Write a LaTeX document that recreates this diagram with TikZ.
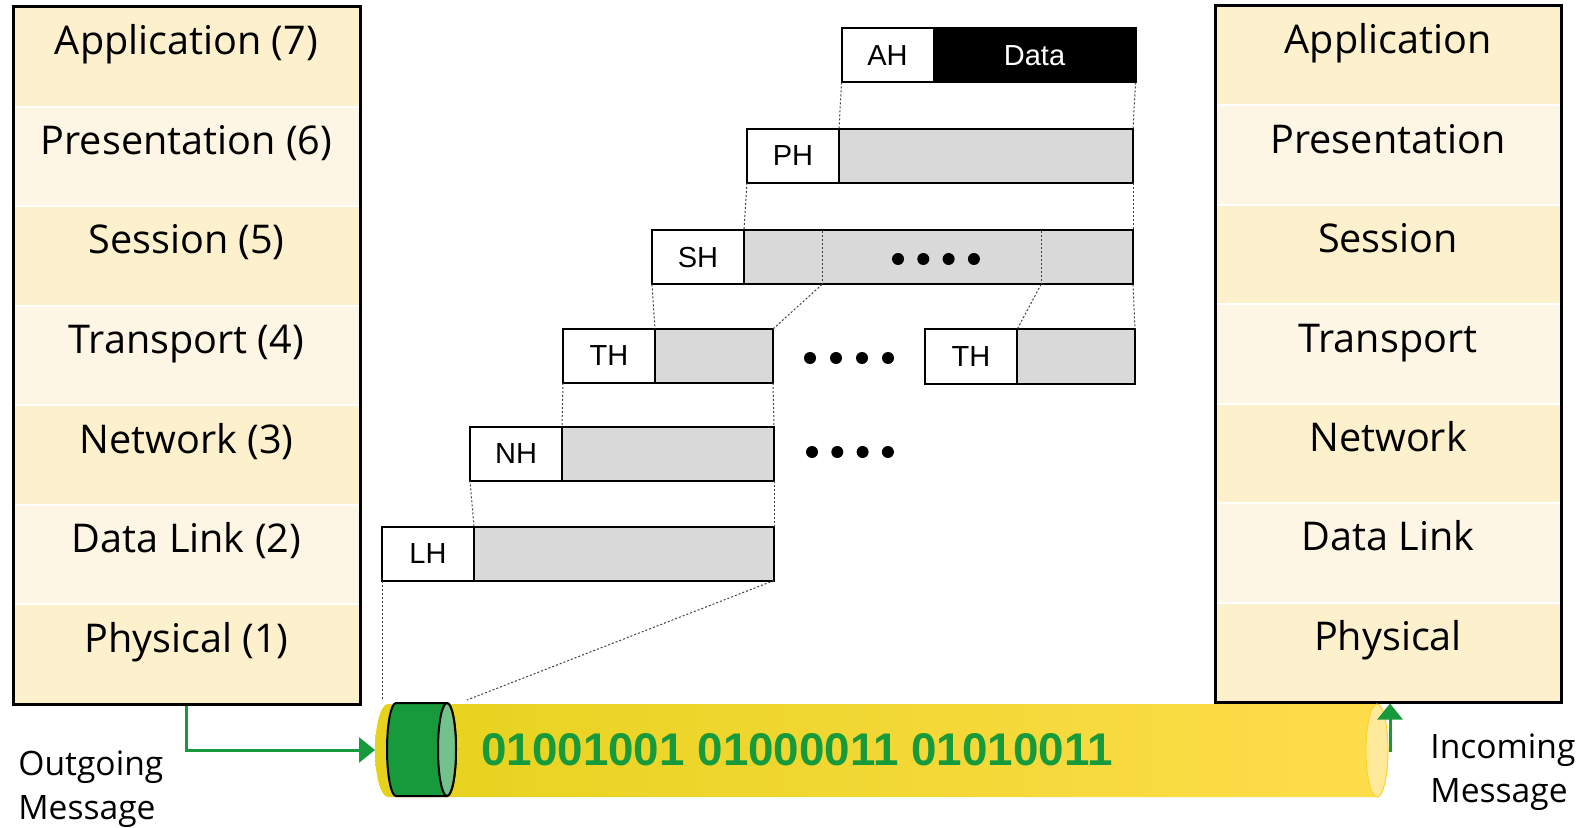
\documentclass[tikz,border=0pt]{standalone}
\usepackage{fontspec}
\setmainfont{Open Sans}
\newfontfamily\arialfont{Liberation Sans}
\usetikzlibrary{arrows.meta, positioning}
\definecolor{laydark}{HTML}{FDF0CD}
\definecolor{laylight}{HTML}{FEF6E5}
\definecolor{paygray}{HTML}{D9D9D9}
\definecolor{bitgreen}{HTML}{179A3B}
\definecolor{capgreen}{HTML}{73C28C}
\definecolor{tubedark}{HTML}{E6D21C}
\definecolor{tubemid}{HTML}{FFE22C}
\definecolor{tubeend}{HTML}{FEDD4C}
\definecolor{tubecap}{HTML}{FFEA9C}

\begin{document}
\begin{tikzpicture}[x=0.5pt, y=-0.5pt,
  layer/.style={minimum width=173pt, minimum height=49.7pt, inner sep=0pt,
    draw=white, line width=1pt, font=\fontsize{19.8}{22}\selectfont,
    text height=14pt, text depth=16pt},
  stackbox/.style={draw=black, line width=1.5pt, minimum width=173pt, inner sep=0pt},
  hdr/.style={draw=black, fill=white, line width=1pt, minimum width=46pt,
    minimum height=27pt, inner sep=0pt, outer sep=0pt,
    font=\arialfont\fontsize{14.5}{16}\selectfont},
  pay/.style={draw=black, fill=paygray, line width=1pt, minimum height=27pt,
    inner sep=0pt, outer sep=0pt},
  guide/.style={black!75, line width=0.5pt, dash pattern=on 1pt off 1pt},
  flow/.style={bitgreen, line width=1.5pt, -{Triangle[length=8pt, width=12.5pt]}},
  lbl/.style={align=left, inner sep=0pt, font=\fontsize{16.8}{22}\selectfont}]

\useasboundingbox (0,0) rectangle (1588,828);

% Sender stack
\foreach \txt/\col [count=\i] in {Application (7)/laydark, Presentation (6)/laylight,
    Session (5)/laydark, Transport (4)/laylight, Network (3)/laydark,
    Data Link (2)/laylight, Physical (1)/laydark} {
  \node[layer, fill=\col, minimum width=173.5pt, minimum height=49.8pt]
    (l\i) at (186.5,{7+99.57*(\i-0.5)}) {\txt};
}
\node[stackbox, minimum width=173.5pt, minimum height=348.5pt] (lstack) at (186.5,355.5) {};

% Receiver stack
\foreach \txt/\col [count=\i] in {Application/laydark, Presentation/laylight,
    Session/laydark, Transport/laylight, Network/laydark,
    Data Link/laylight, Physical/laydark} {
  \node[layer, fill=\col] (r\i) at (1388,{6+99.43*(\i-0.5)}) {\txt};
}
\node[stackbox, minimum height=348pt] (rstack) at (1388,354) {};

% Headers and payloads
\node[hdr] (ah) at (887.5,55.5) {AH};
\node[pay, fill=black, text=white, font=\arialfont\fontsize{14.5}{16}\selectfont,
  minimum width=101pt, right=0pt of ah] (adata) {Data};
\node[hdr] (ph) at (793,156) {PH};
\node[pay, minimum width=147pt, right=0pt of ph] (pdata) {};
\node[hdr] (sh) at (698,257.5) {SH};
\node[pay, minimum width=194.5pt, right=0pt of sh] (sdata) {};
\node[hdr] (tha) at (609,356) {TH};
\node[pay, minimum width=59pt, right=0pt of tha] (tdataa) {};
\node[hdr] (thb) at (971,356.5) {TH};
\node[pay, minimum width=59pt, right=0pt of thb] (tdatab) {};
\node[hdr] (nh) at (516,453.5) {NH};
\node[pay, minimum width=106pt, right=0pt of nh] (ndata) {};
\node[hdr] (lh) at (428,553.5) {LH};
\node[pay, minimum width=150pt, right=0pt of lh] (ldata) {};

% Splits inside the session payload
\coordinate (sa) at (822,231);
\coordinate (sb) at (1041,231);
\draw[guide] (sa) -- (sa |- sdata.south);
\draw[guide] (sb) -- (sb |- sdata.south);

% Guide lines between layers
\coordinate (plugtl) at (382,700);
\coordinate (plugtr) at (467,700);
\draw[guide] (ah.south west) -- (pdata.north west);
\draw[guide] (adata.south east) -- (pdata.north east);
\draw[guide] (ph.south west) -- (sdata.north west);
\draw[guide] (pdata.south east) -- (sdata.north east);
\draw[guide] (sh.south west) -- (tdataa.north west);
\draw[guide] (sa |- sdata.south) -- (tdataa.north east);
\draw[guide] (sb |- sdata.south) -- (tdatab.north west);
\draw[guide] (sdata.south east) -- (tdatab.north east);
\draw[guide] (tha.south west) -- (ndata.north west);
\draw[guide] (tdataa.south east) -- (ndata.north east);
\draw[guide] (nh.south west) -- (ldata.north west);
\draw[guide] (ndata.south east) -- (ldata.north east);
\draw[guide] (lh.south west) -- (plugtl);
\draw[guide] (ldata.south east) -- (plugtr);

% Ellipsis dots
\foreach \i in {0,...,3} {
  \fill (898+25.3*\i,259) circle (3pt);
  \fill (810+26*\i,358) circle (3pt);
  \fill (812+25.3*\i,452) circle (3pt);
}

% Cable
\shade[left color=tubedark, middle color=tubemid, right color=tubeend]
  (388,704) -- (1377,704)
  arc[start angle=90, end angle=-90, x radius=5.5pt, y radius=23.25pt]
  -- (388,797)
  arc[start angle=270, end angle=90, x radius=6.5pt, y radius=23.25pt] -- cycle;
\filldraw[fill=tubecap, draw=tubemid!85!orange, line width=0.5pt]
  (1377,750.5) ellipse [x radius=5.5pt, y radius=23.25pt];

% Plug
\filldraw[fill=bitgreen, draw=black, line width=1pt]
  (396,703) -- (447,703)
  arc[start angle=90, end angle=-90, x radius=4.5pt, y radius=23.25pt]
  -- (396,796)
  arc[start angle=270, end angle=90, x radius=4.5pt, y radius=23.25pt] -- cycle;
\filldraw[fill=capgreen, draw=black, line width=1pt]
  (447,749.5) ellipse [x radius=4.5pt, y radius=23.25pt];

\node[font=\arialfont\bfseries\fontsize{22.9}{26}\selectfont, text=bitgreen]
  (bits) at (797,750) {01001001 01000011 01010011};

% Message flow
\coordinate (tubein) at (375,750);
\coordinate (tubeout) at (1390,752);
\draw[flow] (lstack.south) |- (tubein);
\draw[flow] (tubeout) -- (tubeout |- rstack.south);

\node[lbl, anchor=north west] (outmsg) at (18,750) {Outgoing\\Message};
\node[lbl, anchor=north west] (inmsg) at (1430,733) {Incoming\\Message};

\end{tikzpicture}
\end{document}
